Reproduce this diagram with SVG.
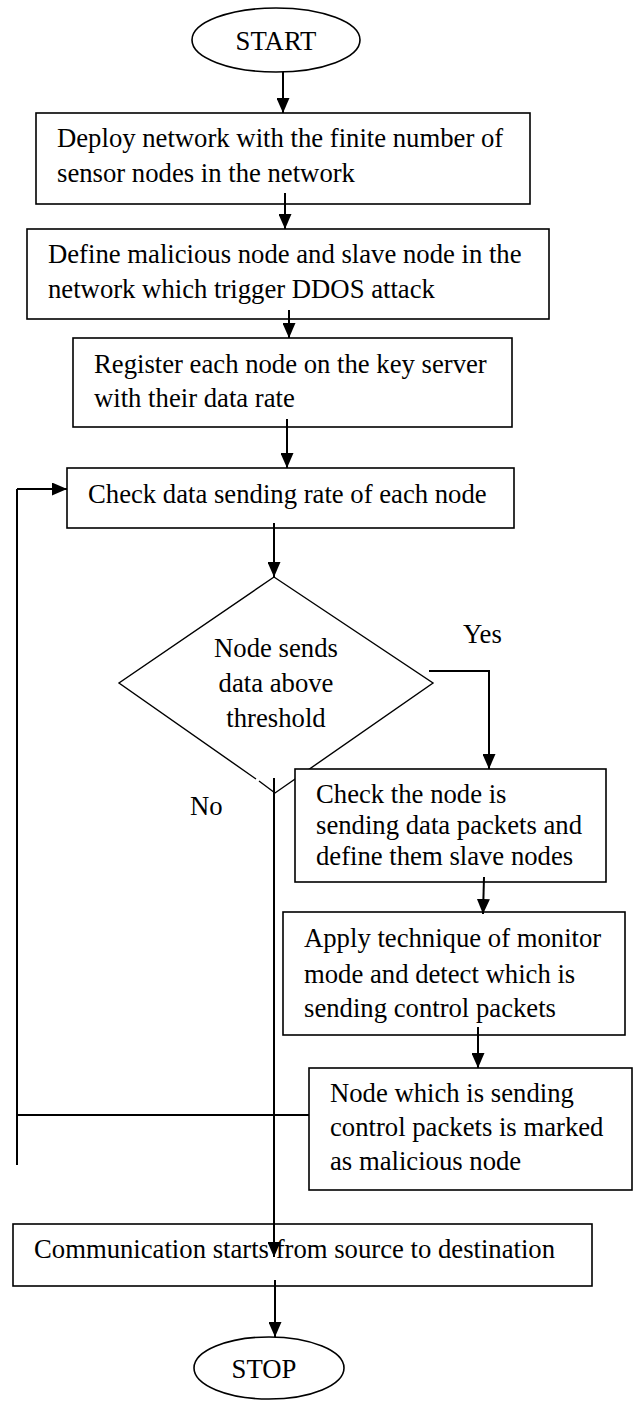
<svg xmlns="http://www.w3.org/2000/svg" width="635" height="1401" viewBox="0 0 635 1401">
<defs>
<style>
.t{font-family:"Liberation Serif","Times New Roman",serif;font-size:26.7px;fill:#000}
.c{text-anchor:middle}
.b{fill:#fff;stroke:#000;stroke-width:1.6}
.d{fill:none;stroke:#000;stroke-width:1.4;stroke-linejoin:miter}
.e{stroke:#000;stroke-width:2;fill:none}
</style>
<marker id="ah" markerUnits="userSpaceOnUse" markerWidth="15" markerHeight="13" refX="15" refY="6.5" orient="auto">
<path d="M0,0 L15,6.5 L0,13 z" fill="#000"/>
</marker>
</defs>
<rect width="635" height="1401" fill="#fff"/>
<g id="start"><ellipse class="b" cx="276" cy="40" rx="84" ry="32"/><text class="t c" x="276" y="50">START</text></g>
<g id="deploy"><rect class="b" x="36" y="113" width="494" height="91"/><text class="t" x="57" y="147">Deploy network with the finite number of</text><text class="t" x="57" y="182">sensor nodes in the network</text></g>
<g id="define"><rect class="b" x="27" y="229" width="522" height="90"/><text class="t" x="48" y="263">Define malicious node and slave node in the</text><text class="t" x="48" y="298">network which trigger DDOS attack</text></g>
<g id="register"><rect class="b" x="73" y="338" width="439" height="89"/><text class="t" x="94" y="373">Register each node on the key server</text><text class="t" x="94" y="407">with their data rate</text></g>
<g id="check"><rect class="b" x="67" y="468" width="447" height="60"/><text class="t" x="88" y="503">Check data sending rate of each node</text></g>
<g id="decision"><path class="d" d="M256,779 L119,683 L274,577 L433,683 L275,793 L259,781"/><text class="t c" x="276" y="657">Node sends</text><text class="t c" x="276" y="692">data above</text><text class="t c" x="276" y="727">threshold</text></g>
<g id="slave"><rect class="b" x="295" y="769" width="311" height="113"/><text class="t" x="316" y="803">Check the node is</text><text class="t" x="316" y="834">sending data packets and</text><text class="t" x="316" y="865">define them slave nodes</text></g>
<g id="monitor"><rect class="b" x="283" y="912" width="342" height="123"/><text class="t" x="304" y="947">Apply technique of monitor</text><text class="t" x="304" y="983">mode and detect which is</text><text class="t" x="304" y="1017">sending control packets</text></g>
<g id="mark"><rect class="b" x="309" y="1068" width="323" height="122"/><text class="t" x="330" y="1102">Node which is sending</text><text class="t" x="330" y="1136">control packets is marked</text><text class="t" x="330" y="1170">as malicious node</text></g>
<g id="comm"><rect class="b" x="13" y="1224" width="579" height="62"/><text class="t" x="34" y="1258">Communication starts from source to destination</text></g>
<g id="stop"><ellipse class="b" cx="269" cy="1368" rx="75" ry="31"/><text class="t c" x="264" y="1378">STOP</text></g>
<g id="labels"><text class="t" x="463" y="643">Yes</text><text class="t" x="190" y="815">No</text></g>
<g id="connectors">
<line class="e" x1="283" y1="72" x2="283" y2="113" marker-end="url(#ah)"/>
<line class="e" x1="285" y1="193" x2="285" y2="229" marker-end="url(#ah)"/>
<line class="e" x1="289" y1="310" x2="289" y2="338" marker-end="url(#ah)"/>
<line class="e" x1="287" y1="419" x2="287" y2="468" marker-end="url(#ah)"/>
<line class="e" x1="274" y1="523" x2="274" y2="577" marker-end="url(#ah)"/>
<polyline class="e" points="429,671 489,671 489,769" marker-end="url(#ah)"/>
<line class="e" x1="484" y1="877" x2="483" y2="914" marker-end="url(#ah)"/>
<line class="e" x1="478" y1="1027" x2="478" y2="1068" marker-end="url(#ah)"/>
<line class="e" x1="274" y1="778" x2="274" y2="1257" marker-end="url(#ah)"/>
<line class="e" x1="309" y1="1115" x2="17" y2="1115"/>
<line class="e" x1="17" y1="1165" x2="17" y2="489"/>
<line class="e" x1="17" y1="489" x2="67" y2="489" marker-end="url(#ah)"/>
<line class="e" x1="275" y1="1280" x2="275" y2="1337" marker-end="url(#ah)"/>
</g>
</svg>
